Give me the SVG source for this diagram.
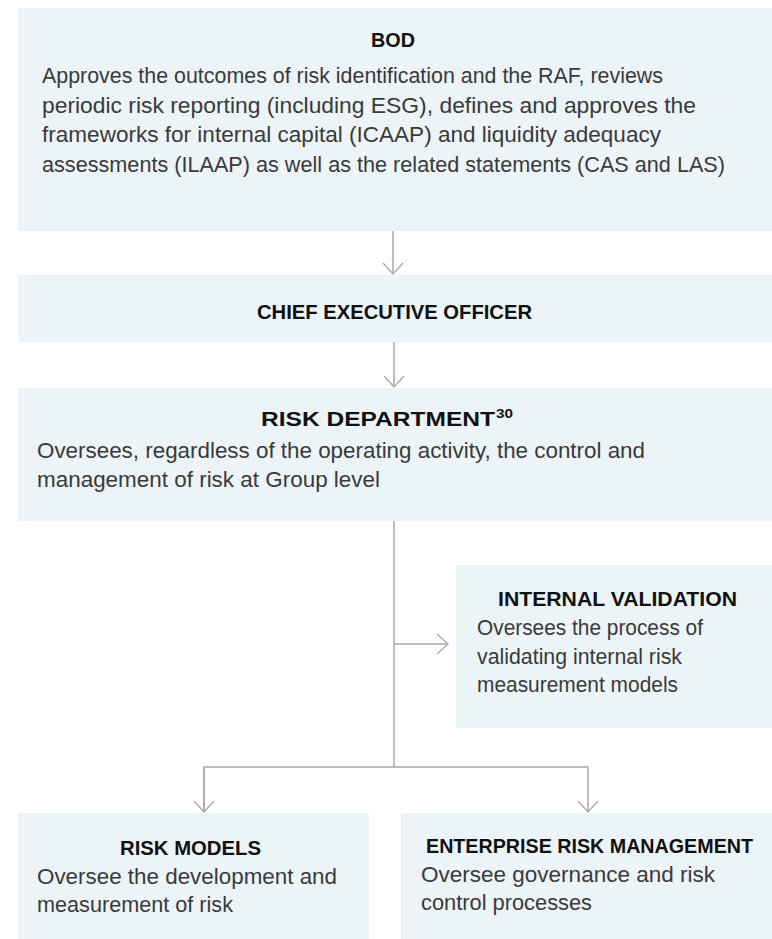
<svg xmlns="http://www.w3.org/2000/svg" width="772" height="939" viewBox="0 0 772 939">
  <style>
    .box { fill: #ecf4f8; }
    .title { font-family: "Liberation Sans", Arial, sans-serif; font-weight: bold; font-size: 21px; fill: #111111; }
    .sup { font-family: "Liberation Sans", Arial, sans-serif; font-weight: bold; font-size: 12px; fill: #111111; }
    .body { font-family: "Liberation Sans", Arial, sans-serif; font-size: 22px; fill: #3a3a3a; }
    .link { fill: none; stroke: #a8a8a8; stroke-width: 1.5; }
  </style>
  <defs>
    <marker id="arrow" markerUnits="userSpaceOnUse" markerWidth="14" markerHeight="22" viewBox="0 0 14 22" refX="12" refY="11" orient="auto">
      <path d="M1,1 L12,11 L1,21" fill="none" stroke="#a8a8a8" stroke-width="1.3"/>
    </marker>
  </defs>

  <rect width="772" height="939" fill="#ffffff"/>

  <!-- Board of Directors -->
  <g id="bod">
    <rect class="box" x="18" y="8" width="754" height="223"/>
    <text class="title" x="393" y="47" text-anchor="middle" textLength="44" lengthAdjust="spacingAndGlyphs">BOD</text>
    <text class="body" x="42" y="83" textLength="621" lengthAdjust="spacingAndGlyphs">Approves the outcomes of risk identification and the RAF, reviews</text>
    <text class="body" x="42" y="112.5" textLength="654" lengthAdjust="spacingAndGlyphs">periodic risk reporting (including ESG), defines and approves the</text>
    <text class="body" x="42" y="142" textLength="619" lengthAdjust="spacingAndGlyphs">frameworks for internal capital (ICAAP) and liquidity adequacy</text>
    <text class="body" x="42" y="171.5" textLength="683" lengthAdjust="spacingAndGlyphs">assessments (ILAAP) as well as the related statements (CAS and LAS)</text>
  </g>

  <!-- Chief Executive Officer -->
  <g id="ceo">
    <rect class="box" x="18" y="275" width="754" height="67"/>
    <text class="title" x="257" y="319" textLength="275" lengthAdjust="spacingAndGlyphs">CHIEF EXECUTIVE OFFICER</text>
  </g>

  <!-- Risk Department -->
  <g id="risk-department">
    <rect class="box" x="18" y="388" width="754" height="133"/>
    <text class="title" x="261" y="426" textLength="234" lengthAdjust="spacingAndGlyphs">RISK DEPARTMENT</text>
    <text class="sup" x="496" y="418" textLength="17" lengthAdjust="spacingAndGlyphs">30</text>
    <text class="body" x="37" y="458" textLength="608" lengthAdjust="spacingAndGlyphs">Oversees, regardless of the operating activity, the control and</text>
    <text class="body" x="37" y="487" textLength="343" lengthAdjust="spacingAndGlyphs">management of risk at Group level</text>
  </g>

  <!-- Internal Validation -->
  <g id="internal-validation">
    <rect class="box" x="456" y="565" width="316" height="163"/>
    <text class="title" x="498" y="606" textLength="239" lengthAdjust="spacingAndGlyphs">INTERNAL VALIDATION</text>
    <text class="body" x="477" y="635" textLength="226" lengthAdjust="spacingAndGlyphs">Oversees the process of</text>
    <text class="body" x="477" y="663.5" textLength="205" lengthAdjust="spacingAndGlyphs">validating internal risk</text>
    <text class="body" x="477" y="692" textLength="201" lengthAdjust="spacingAndGlyphs">measurement models</text>
  </g>

  <!-- Risk Models -->
  <g id="risk-models">
    <rect class="box" x="18" y="813" width="351" height="126"/>
    <text class="title" x="120" y="855" textLength="141" lengthAdjust="spacingAndGlyphs">RISK MODELS</text>
    <text class="body" x="37" y="884" textLength="300" lengthAdjust="spacingAndGlyphs">Oversee the development and</text>
    <text class="body" x="37" y="912" textLength="196" lengthAdjust="spacingAndGlyphs">measurement of risk</text>
  </g>

  <!-- Enterprise Risk Management -->
  <g id="enterprise-risk-management">
    <rect class="box" x="401" y="813" width="371" height="126"/>
    <text class="title" x="589.5" y="853" text-anchor="middle" style="font-size:20px" textLength="327" lengthAdjust="spacingAndGlyphs">ENTERPRISE RISK MANAGEMENT</text>
    <text class="body" x="421" y="882" textLength="294" lengthAdjust="spacingAndGlyphs">Oversee governance and risk</text>
    <text class="body" x="421" y="910" textLength="171" lengthAdjust="spacingAndGlyphs">control processes</text>
  </g>

  <!-- Reporting lines -->
  <g id="connectors">
    <path class="link" d="M393,231 L393,274" marker-end="url(#arrow)"/>
    <path class="link" d="M394,342 L394,387" marker-end="url(#arrow)"/>
    <path class="link" d="M394,521 L394,767"/>
    <path class="link" d="M394,644 L448,644" marker-end="url(#arrow)"/>
    <path class="link" d="M204,812 L204,767 L588,767 L588,812" marker-end="url(#arrow)"/>
    <path class="link" d="M204,767 L204,812" marker-end="url(#arrow)"/>
  </g>
</svg>
